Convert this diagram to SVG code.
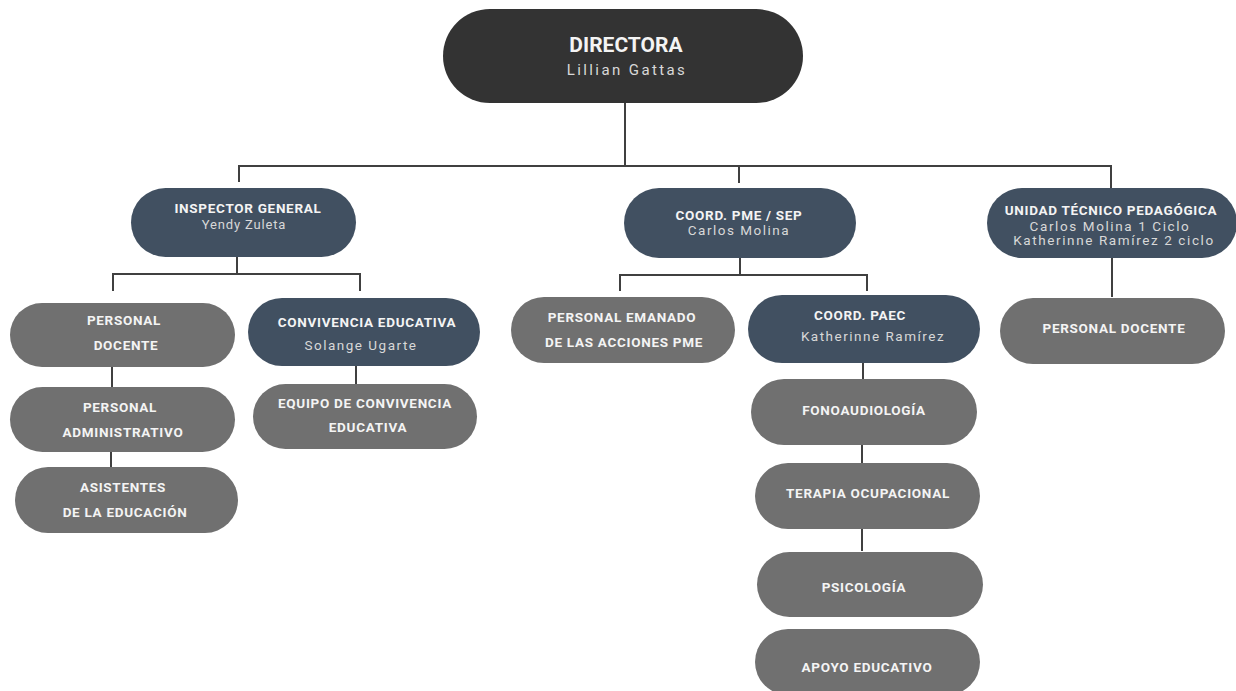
<svg xmlns="http://www.w3.org/2000/svg" width="1236" height="691" viewBox="0 0 1236 691">
<style>
.dk{fill:#333333}
.sl{fill:#415061}
.gr{fill:#707070}
.t{font-family:Roboto,"Liberation Sans",sans-serif;font-weight:bold;font-size:13.5px;fill:#f4f4f4;text-anchor:middle;letter-spacing:0.7px}
.s{font-family:Roboto,"Liberation Sans",sans-serif;font-size:13.5px;fill:#d8d8d8;text-anchor:middle;letter-spacing:1.5px}
.c{fill:none;stroke:#404040;stroke-width:2}
</style>
<rect width="1236" height="691" fill="#ffffff"/>
<g id="connectors">
<path class="c" d="M625 103V166M239 182V166H1111V189M739 166V183"/>
<path class="c" d="M237 257V274M113 291V274H360V291"/>
<path class="c" d="M740 258V275M620 291V275H867V291"/>
<path class="c" d="M1112 258V297"/>
<path class="c" d="M112 367V387M111 452V468"/>
<path class="c" d="M356 366V384"/>
<path class="c" d="M863 363V379M862 445V463M862 529V551"/>
</g>
<g id="directora">
<rect class="dk" x="443" y="9" width="360" height="94" rx="47"/>
<text class="t" x="626" y="52" style="font-size:21px;letter-spacing:0">DIRECTORA</text>
<text class="s" x="627" y="75" style="font-size:15px;letter-spacing:2.4px">Lillian Gattas</text>
</g>
<g id="inspector">
<rect class="sl" x="131" y="188" width="225" height="69" rx="34.5"/>
<text class="t" x="248" y="213">INSPECTOR GENERAL</text>
<text class="s" x="244" y="229" style="font-size:13px;letter-spacing:0.85px">Yendy Zuleta</text>
</g>
<g id="coord-pme">
<rect class="sl" x="624" y="188" width="232" height="70" rx="35"/>
<text class="t" x="739" y="220">COORD. PME / SEP</text>
<text class="s" x="739" y="235">Carlos Molina</text>
</g>
<g id="utp">
<rect class="sl" x="987" y="188" width="250" height="70" rx="35"/>
<text class="t" x="1111" y="215">UNIDAD TÉCNICO PEDAGÓGICA</text>
<text class="s" x="1110" y="231" style="letter-spacing:1.6px">Carlos Molina 1 Ciclo</text>
<text class="s" x="1114" y="245" style="letter-spacing:1.6px">Katherinne Ramírez 2 ciclo</text>
</g>
<g id="personal-docente-utp">
<rect class="gr" x="1000" y="298" width="225" height="66" rx="33"/>
<text class="t" x="1114" y="333">PERSONAL DOCENTE</text>
</g>
<g id="personal-docente">
<rect class="gr" x="10" y="303" width="225" height="64" rx="32"/>
<text class="t" x="124" y="325">PERSONAL</text>
<text class="t" x="126" y="350">DOCENTE</text>
</g>
<g id="personal-administrativo">
<rect class="gr" x="10" y="387" width="225" height="65" rx="32.5"/>
<text class="t" x="120" y="412">PERSONAL</text>
<text class="t" x="123" y="437">ADMINISTRATIVO</text>
</g>
<g id="asistentes">
<rect class="gr" x="15" y="467" width="223" height="66" rx="33"/>
<text class="t" x="123" y="492">ASISTENTES</text>
<text class="t" x="125" y="517">DE LA EDUCACIÓN</text>
</g>
<g id="convivencia">
<rect class="sl" x="248" y="298" width="232" height="68" rx="34"/>
<text class="t" x="367" y="327">CONVIVENCIA EDUCATIVA</text>
<text class="s" x="361" y="350">Solange Ugarte</text>
</g>
<g id="equipo-convivencia">
<rect class="gr" x="253" y="384" width="224" height="65" rx="32.5"/>
<text class="t" x="365" y="408">EQUIPO DE CONVIVENCIA</text>
<text class="t" x="368" y="432">EDUCATIVA</text>
</g>
<g id="personal-emanado">
<rect class="gr" x="511" y="297" width="224" height="66" rx="33"/>
<text class="t" x="622" y="322">PERSONAL EMANADO</text>
<text class="t" x="624" y="347">DE LAS ACCIONES PME</text>
</g>
<g id="coord-paec">
<rect class="sl" x="748" y="295" width="232" height="68" rx="34"/>
<text class="t" x="860" y="320">COORD. PAEC</text>
<text class="s" x="873" y="341">Katherinne Ramírez</text>
</g>
<g id="fonoaudiologia">
<rect class="gr" x="751" y="379" width="226" height="66" rx="33"/>
<text class="t" x="864" y="415">FONOAUDIOLOGÍA</text>
</g>
<g id="terapia">
<rect class="gr" x="755" y="463" width="225" height="66" rx="33"/>
<text class="t" x="868" y="498">TERAPIA OCUPACIONAL</text>
</g>
<g id="psicologia">
<rect class="gr" x="757" y="552" width="226" height="65" rx="32.5"/>
<text class="t" x="864" y="592">PSICOLOGÍA</text>
</g>
<g id="apoyo">
<rect class="gr" x="755" y="629" width="225" height="66" rx="33"/>
<text class="t" x="867" y="672">APOYO EDUCATIVO</text>
</g>
</svg>
